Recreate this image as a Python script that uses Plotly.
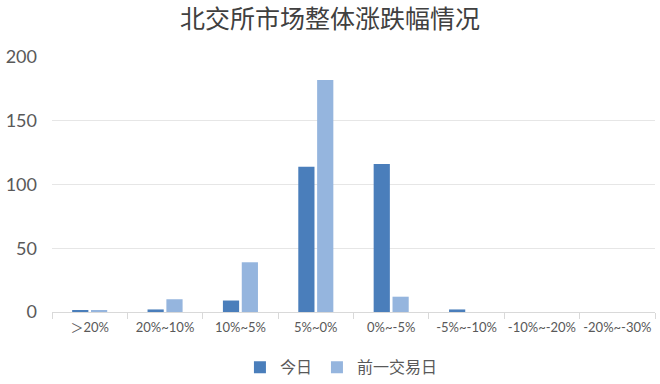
import plotly.graph_objects as go

categories = ["＞20%", "20%~10%", "10%~5%", "5%~0%", "0%~-5%", "-5%~-10%", "-10%~-20%", "-20%~-30%"]
today = [1, 2, 9, 114, 116, 2, 0, 0]
prev_day = [1, 10, 39, 182, 12, 0, 0, 0]
series_names = ["今日", "前一交易日"]
title_text = "北交所市场整体涨跌幅情况"

cjk = "Noto Sans CJK SC"

fig = go.Figure()
fig.add_trace(go.Bar(x=categories, y=today, name=series_names[0],
                     marker=dict(color="#4a7ebb", line=dict(width=0))))
fig.add_trace(go.Bar(x=categories, y=prev_day, name=series_names[1],
                     marker=dict(color="#95b5de", line=dict(width=0))))

fig.update_layout(
    width=660, height=384,
    margin=dict(l=52, r=5, t=57, b=72, autoexpand=False),
    paper_bgcolor="white", plot_bgcolor="white",
    barmode="group", bargap=0.5, bargroupgap=0.14,
    title=dict(text=title_text, x=0.5, xanchor="center", y=0.95, yanchor="middle",
               font=dict(family=cjk, size=25, color="#404040")),
    legend=dict(orientation="h", x=0.48, xanchor="center", y=-0.15, yanchor="top",
                font=dict(family=cjk, size=16, color="#595959"),
                itemwidth=30, traceorder="normal"),
    showlegend=True,
)
fig.update_xaxes(
    showgrid=False, showline=True, linecolor="#d9d9d9", linewidth=1,
    ticks="outside", tickson="boundaries", ticklen=6, tickcolor="#d9d9d9",
    tickangle=0, automargin=False, ticklabelstandoff=3,
    tickfont=dict(family="Lato, " + cjk, size=13, color="#595959"),
)
fig.update_yaxes(
    range=[0, 200], dtick=50, showgrid=True, gridcolor="#e6e6e6", gridwidth=1,
    zeroline=False, showline=False, automargin=False,
    tickfont=dict(family="Lato", size=18, color="#595959"),
    ticklabelstandoff=14,
)

fig.write_html("out.html")
